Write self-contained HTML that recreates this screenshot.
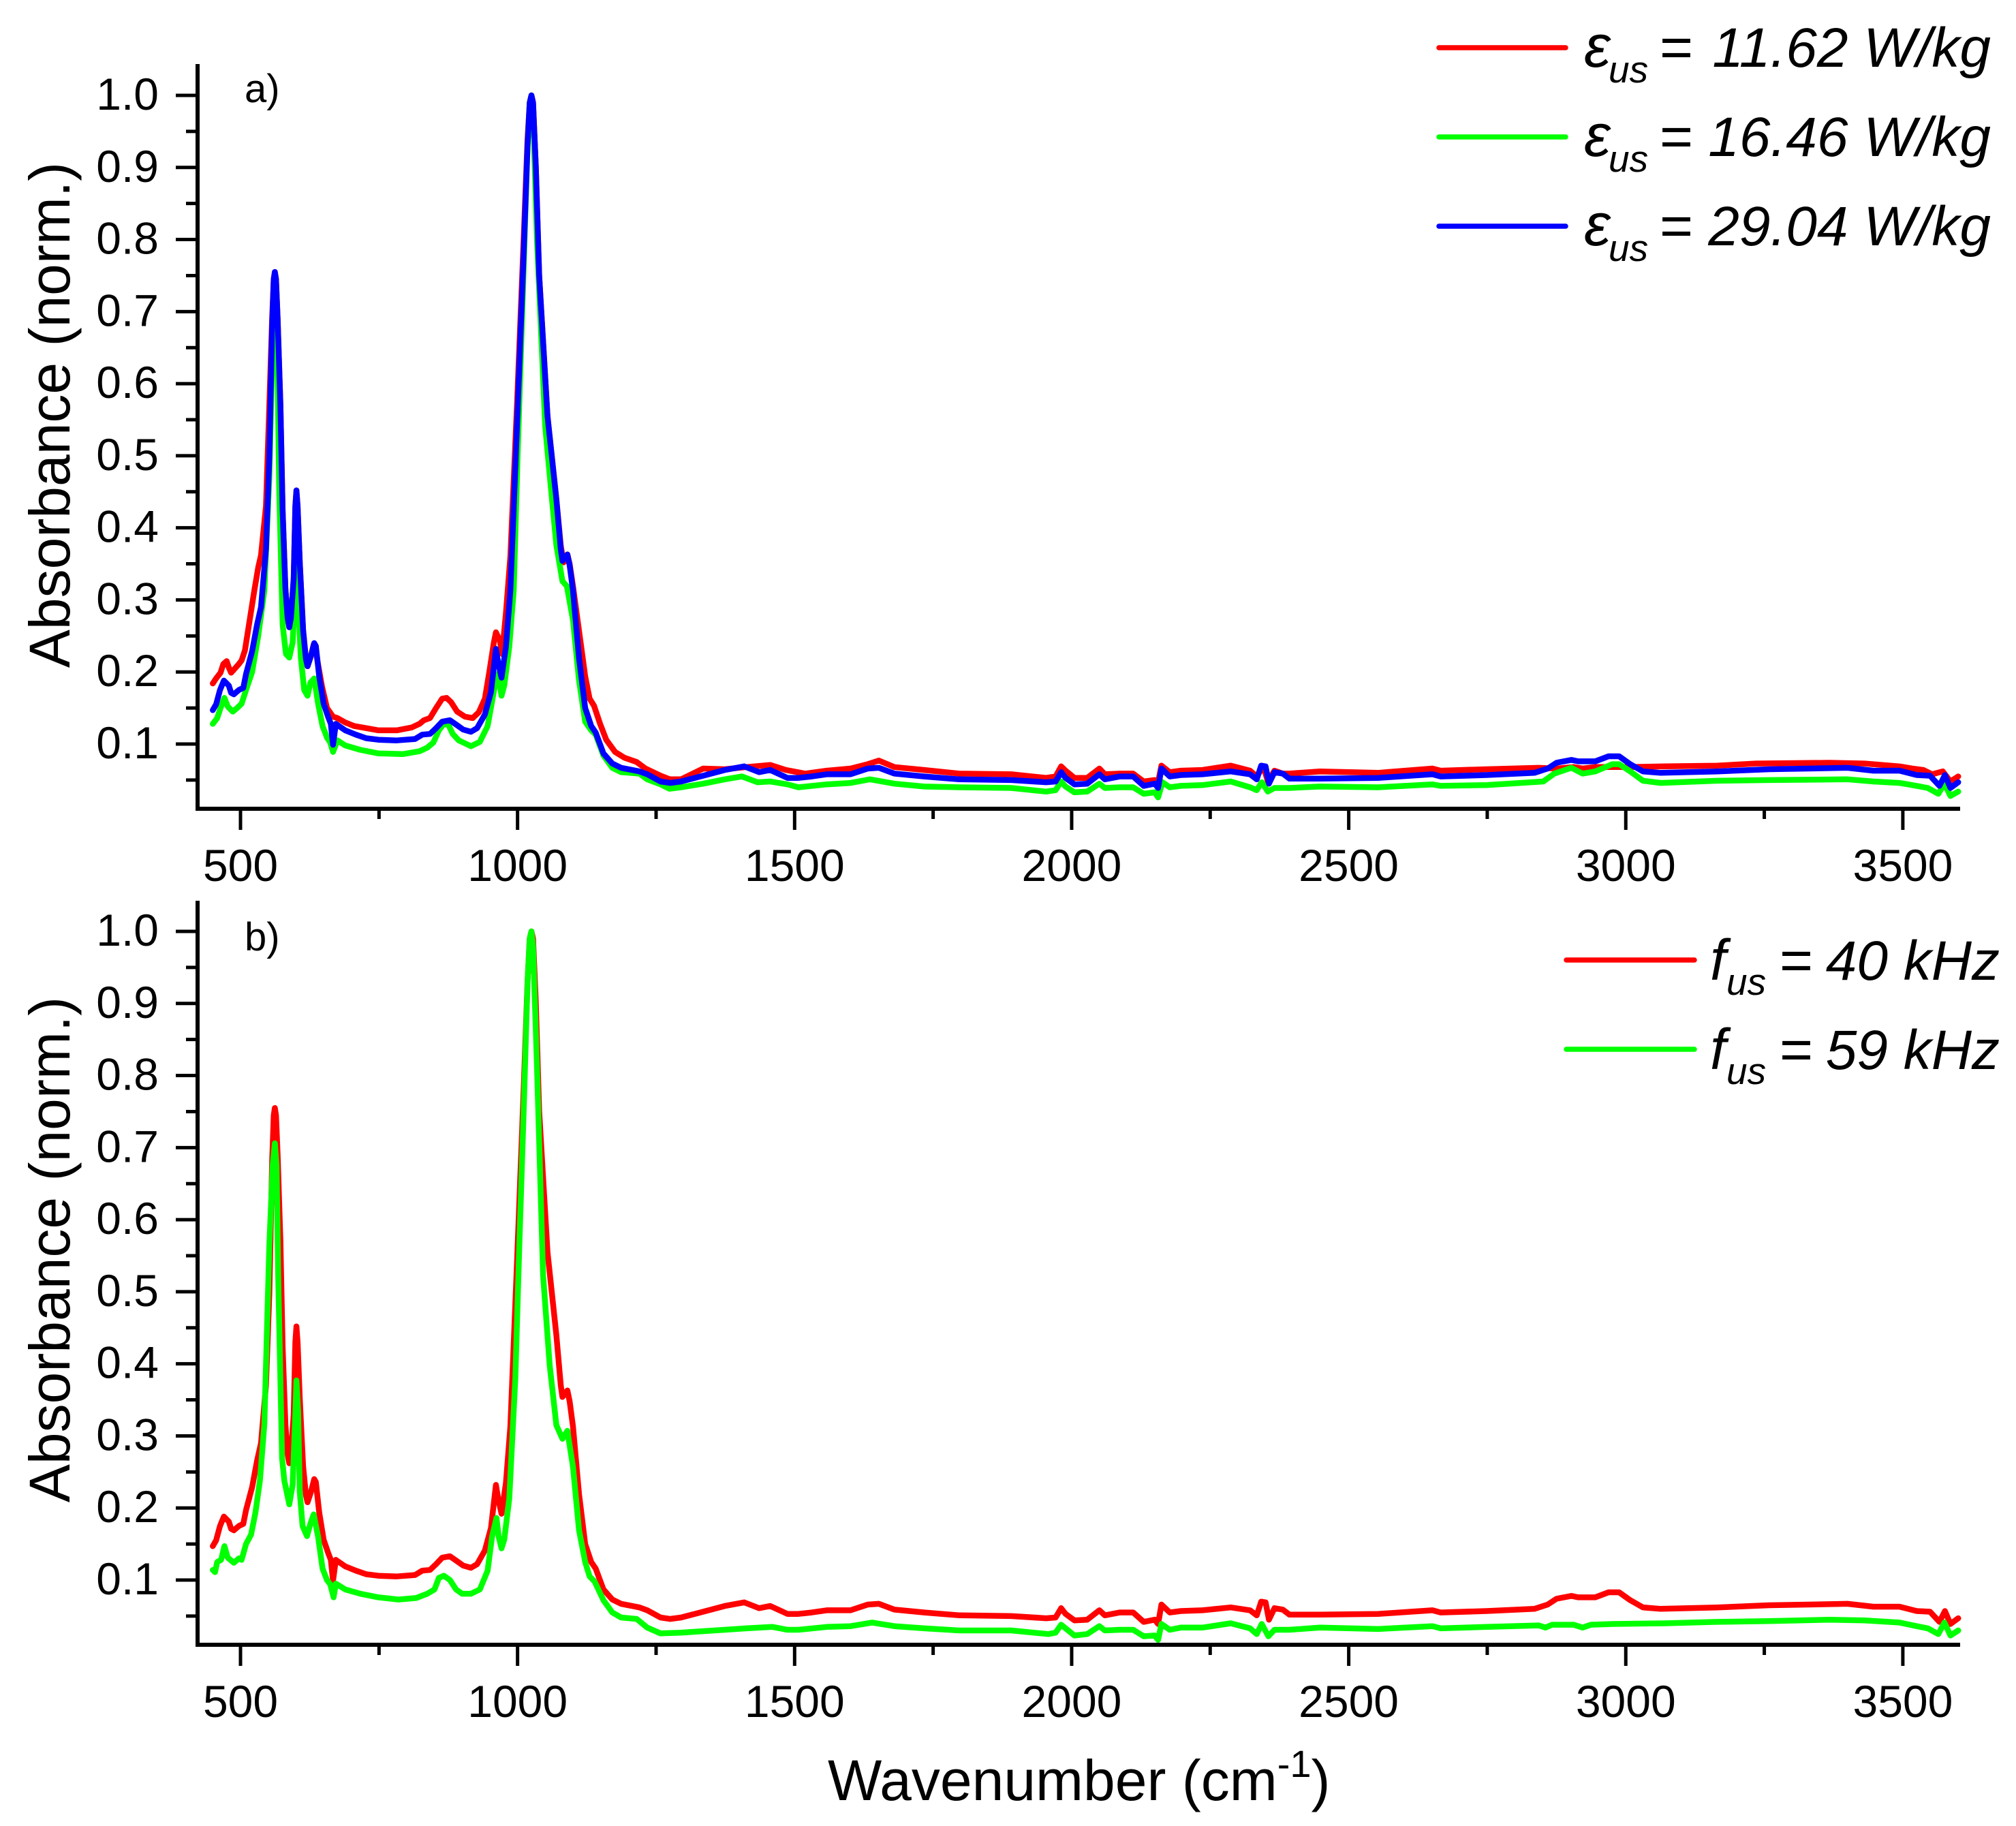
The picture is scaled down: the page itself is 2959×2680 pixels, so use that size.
<!DOCTYPE html>
<html lang="en">
<head>
<meta charset="utf-8">
<title>Absorbance spectra</title>
<style>
html,body{margin:0;padding:0;background:#fff;}
svg{display:block;}
text{font-family:"Liberation Sans",sans-serif;fill:#000;}
.it{font-style:italic;}
</style>
</head>
<body>
<svg id="chart" xmlns="http://www.w3.org/2000/svg" width="2959" height="2680" viewBox="0 0 2959 2680">
  <rect x="0" y="0" width="2959" height="2680" fill="#fff"/>
  <g id="panel-a"></g>
  <g id="panel-b"></g>

  <text x="359" y="150" font-size="58">a)</text>
  <text x="359" y="1395" font-size="58">b)</text>

  <text transform="translate(102,609) rotate(-90)" text-anchor="middle" font-size="84">Absorbance (norm.)</text>
  <text transform="translate(102,1834) rotate(-90)" text-anchor="middle" font-size="84">Absorbance (norm.)</text>
  <text x="1215" y="2642" font-size="84">Wavenumber (cm<tspan font-size="56" dy="-34">-1</tspan><tspan dy="34">)</tspan></text>

  <g>
    <g>
      <line x1="2112" x2="2298" y1="70" y2="70" stroke="#ff0000" stroke-width="7.5" stroke-linecap="round"/>
      <text class="it" x="2325" y="98" font-size="88">ε</text>
      <text class="it" x="2361" y="121" font-size="55">us</text>
      <text x="2436" y="98" font-size="84">=</text>
      <text class="it" x="2922" y="98" font-size="82" text-anchor="end">11.62 W/kg</text>
    </g>
    <g>
      <line x1="2112" x2="2298" y1="201" y2="201" stroke="#00ff00" stroke-width="7.5" stroke-linecap="round"/>
      <text class="it" x="2325" y="229" font-size="88">ε</text>
      <text class="it" x="2361" y="252" font-size="55">us</text>
      <text x="2436" y="229" font-size="84">=</text>
      <text class="it" x="2922" y="229" font-size="82" text-anchor="end">16.46 W/kg</text>
    </g>
    <g>
      <line x1="2112" x2="2298" y1="332" y2="332" stroke="#0000ff" stroke-width="7.5" stroke-linecap="round"/>
      <text class="it" x="2325" y="360" font-size="88">ε</text>
      <text class="it" x="2361" y="383" font-size="55">us</text>
      <text x="2436" y="360" font-size="84">=</text>
      <text class="it" x="2922" y="360" font-size="82" text-anchor="end">29.04 W/kg</text>
    </g>
  </g>

  <g>
    <g>
      <line x1="2299" x2="2487" y1="1409" y2="1409" stroke="#ff0000" stroke-width="7.5" stroke-linecap="round"/>
      <text class="it" x="2510" y="1438" font-size="84">f</text>
      <text class="it" x="2534" y="1460" font-size="55">us</text>
      <text x="2612" y="1438" font-size="84">=</text>
      <text class="it" x="2935" y="1438" font-size="82" text-anchor="end">40 kHz</text>
    </g>
    <g>
      <line x1="2299" x2="2487" y1="1540" y2="1540" stroke="#00ff00" stroke-width="7.5" stroke-linecap="round"/>
      <text class="it" x="2510" y="1569" font-size="84">f</text>
      <text class="it" x="2534" y="1591" font-size="55">us</text>
      <text x="2612" y="1569" font-size="84">=</text>
      <text class="it" x="2935" y="1569" font-size="82" text-anchor="end">59 kHz</text>
    </g>
  </g>
</svg>

<script>
/* Axis ticks */
const xTickValues = [500,750,1000,1250,1500,1750,2000,2250,2500,2750,3000,3250,3500];
const xTickLabels = ["500","","1000","","1500","","2000","","2500","","3000","","3500"];
const yTickValues = [0.05,0.1,0.15,0.2,0.25,0.3,0.35,0.4,0.45,0.5,0.55,0.6,0.65,0.7,0.75,0.8,0.85,0.9,0.95,1.0];
const yTickLabels = ["","0.1","","0.2","","0.3","","0.4","","0.5","","0.6","","0.7","","0.8","","0.9","","1.0"];

/* Panel a, [wavenumber, absorbance] */
const spectrum1162 = [[450,.184],[456,.191],[464,.199],[469,.211],[475,.215],[479,.206],[483,.199],[488,.203],[497,.211],[502,.216],[508,.23],[516,.269],[525,.313],[532,.345],[537,.362],[546,.43],[552,.57],[557,.69],[560,.745],[562,.755],[564,.745],[567,.69],[572,.57],[576,.425],[581,.316],[585,.275],[588,.262],[591,.275],[596,.33],[599,.43],[601,.452],[603,.43],[607,.352],[613,.258],[618,.218],[621,.208],[627,.222],[632,.238],[635,.236],[639,.215],[647,.18],[656,.15],[667,.138],[675,.136],[689,.13],[705,.125],[727,.122],[749,.119],[782,.119],[809,.123],[823,.128],[831,.133],[842,.136],[853,.15],[864,.163],[872,.164],[880,.158],[891,.145],[905,.138],[919,.136],[930,.144],[941,.163],[949,.2],[957,.24],[961,.255],[964,.25],[968,.244],[972,.225],[979,.282],[987,.36],[999,.57],[1011,.80],[1018,.94],[1022,.99],[1025,1.0],[1028,.99],[1033,.90],[1039,.75],[1054,.555],[1070,.44],[1078,.375],[1083,.352],[1087,.36],[1090,.363],[1094,.35],[1100,.319],[1111,.257],[1122,.194],[1130,.163],[1138,.153],[1149,.128],[1160,.106],[1176,.089],[1193,.081],[1215,.075],[1231,.066],[1258,.056],[1275,.051],[1295,.051],[1335,.066],[1374,.065],[1413,.068],[1456,.071],[1484,.064],[1519,.059],[1558,.063],[1601,.066],[1632,.072],[1652,.077],[1680,.068],[1734,.064],[1797,.059],[1891,.058],[1954,.053],[1971,.055],[1981,.069],[1989,.063],[2005,.053],[2028,.053],[2050,.066],[2060,.058],[2087,.059],[2111,.059],[2130,.048],[2150,.05],[2156,.047],[2162,.07],[2177,.061],[2197,.063],[2236,.064],[2287,.07],[2322,.063],[2334,.055],[2346,.069],[2354,.048],[2366,.063],[2381,.059],[2393,.059],[2448,.062],[2553,.06],[2651,.066],[2666,.063],[2749,.065],[2843,.067],[2875,.066],[2906,.068],[2922,.066],[2945,.068],[3008,.068],[3071,.069],[3165,.07],[3235,.073],[3368,.074],[3431,.073],[3494,.069],[3517,.066],[3537,.064],[3553,.058],[3572,.062],[3586,.048],[3600,.055]];

const spectrum1646 = [[450,.128],[458,.136],[464,.15],[471,.164],[477,.152],[486,.145],[494,.15],[502,.156],[510,.175],[521,.2],[532,.25],[543,.313],[552,.47],[558,.66],[562,.70],[566,.66],[570,.45],[576,.266],[582,.225],[588,.22],[594,.241],[599,.313],[601,.40],[605,.282],[609,.219],[615,.175],[621,.167],[626,.185],[633,.191],[640,.156],[648,.125],[656,.109],[662,.102],[667,.089],[675,.105],[689,.098],[716,.092],[749,.087],[793,.086],[823,.09],[837,.095],[848,.102],[858,.119],[867,.128],[875,.127],[883,.114],[894,.105],[916,.097],[932,.103],[946,.125],[957,.172],[963,.197],[967,.188],[971,.167],[976,.181],[985,.235],[993,.313],[1000,.5],[1011,.76],[1018,.93],[1022,.99],[1025,1.0],[1028,.98],[1035,.80],[1050,.54],[1062,.44],[1070,.376],[1081,.326],[1089,.319],[1100,.272],[1111,.188],[1122,.131],[1133,.119],[1141,.113],[1155,.084],[1171,.067],[1187,.061],[1220,.059],[1234,.051],[1258,.044],[1274,.038],[1295,.04],[1335,.045],[1374,.051],[1405,.055],[1433,.047],[1456,.048],[1487,.044],[1507,.04],[1558,.044],[1601,.046],[1636,.051],[1680,.045],[1734,.041],[1797,.04],[1891,.039],[1954,.034],[1971,.036],[1981,.048],[1989,.041],[2005,.033],[2028,.034],[2050,.045],[2060,.039],[2087,.04],[2111,.04],[2130,.031],[2150,.033],[2156,.026],[2164,.047],[2177,.04],[2197,.042],[2236,.043],[2287,.048],[2322,.04],[2334,.036],[2343,.047],[2354,.034],[2366,.039],[2393,.039],[2448,.041],[2553,.04],[2651,.044],[2666,.042],[2749,.043],[2851,.048],[2871,.059],[2902,.067],[2922,.059],[2945,.062],[2976,.072],[2988,.072],[3008,.062],[3031,.049],[3063,.046],[3165,.049],[3259,.05],[3400,.051],[3447,.048],[3494,.046],[3525,.042],[3545,.039],[3564,.031],[3575,.045],[3586,.028],[3600,.034]];

const spectrum2904 = [[450,.147],[456,.155],[463,.175],[470,.188],[479,.181],[483,.171],[488,.169],[497,.175],[505,.178],[510,.197],[521,.229],[530,.266],[537,.29],[546,.37],[552,.497],[557,.68],[560,.745],[562,.755],[564,.745],[567,.69],[572,.57],[576,.425],[581,.316],[585,.275],[588,.262],[591,.275],[596,.33],[599,.43],[601,.452],[603,.43],[607,.352],[613,.258],[618,.218],[621,.208],[627,.222],[633,.24],[636,.236],[642,.194],[650,.156],[658,.138],[663,.128],[667,.099],[672,.128],[689,.119],[708,.113],[727,.108],[749,.106],[782,.105],[815,.107],[828,.113],[842,.114],[853,.122],[864,.131],[878,.133],[889,.127],[902,.12],[916,.117],[927,.122],[941,.141],[952,.172],[961,.232],[965,.213],[971,.192],[979,.235],[987,.313],[999,.54],[1011,.78],[1018,.93],[1022,.99],[1025,1.0],[1028,.99],[1033,.90],[1039,.75],[1054,.555],[1070,.44],[1078,.37],[1081,.354],[1087,.36],[1090,.363],[1094,.348],[1100,.313],[1111,.219],[1122,.15],[1133,.125],[1141,.116],[1155,.087],[1171,.073],[1187,.067],[1220,.062],[1234,.058],[1258,.048],[1275,.046],[1295,.048],[1335,.056],[1374,.064],[1409,.069],[1436,.061],[1456,.064],[1487,.053],[1507,.053],[1531,.055],[1558,.058],[1601,.058],[1632,.066],[1652,.067],[1680,.059],[1734,.055],[1797,.051],[1891,.05],[1954,.047],[1971,.048],[1981,.061],[1989,.053],[2005,.044],[2028,.045],[2050,.058],[2060,.051],[2087,.055],[2111,.055],[2130,.042],[2150,.045],[2156,.039],[2162,.066],[2177,.055],[2197,.057],[2236,.058],[2287,.062],[2322,.058],[2334,.051],[2342,.07],[2350,.069],[2356,.045],[2366,.061],[2381,.059],[2393,.052],[2448,.052],[2553,.053],[2651,.058],[2666,.055],[2749,.057],[2835,.06],[2859,.066],[2875,.074],[2902,.078],[2914,.076],[2945,.076],[2969,.083],[2988,.083],[3008,.072],[3031,.062],[3063,.06],[3165,.062],[3259,.065],[3400,.067],[3447,.063],[3494,.063],[3525,.057],[3549,.056],[3566,.042],[3576,.057],[3586,.039],[3600,.047]];

/* Panel b, the 40 kHz sample is the 29.04 W/kg measurement */
const spectrum40k = spectrum2904;
const spectrum59k = [[450,.114],[454,.111],[458,.125],[465,.128],[471,.147],[477,.131],[488,.124],[497,.13],[502,.128],[510,.15],[519,.163],[527,.194],[535,.238],[543,.316],[552,.564],[558,.675],[562,.706],[565,.675],[568,.523],[575,.269],[579,.238],[588,.205],[594,.232],[599,.33],[601,.377],[604,.332],[607,.222],[612,.175],[620,.161],[626,.178],[632,.191],[640,.16],[648,.116],[656,.1],[662,.094],[668,.076],[672,.095],[689,.087],[716,.081],[749,.076],[785,.073],[817,.075],[837,.081],[850,.087],[858,.103],[867,.106],[878,.1],[889,.087],[900,.081],[916,.081],[932,.087],[946,.113],[954,.16],[962,.186],[966,.16],[971,.144],[976,.156],[985,.213],[996,.38],[1003,.56],[1011,.75],[1018,.93],[1022,.99],[1025,1.0],[1028,.98],[1035,.814],[1046,.523],[1058,.398],[1070,.315],[1081,.296],[1090,.307],[1100,.257],[1111,.169],[1122,.125],[1130,.105],[1139,.098],[1155,.072],[1171,.055],[1187,.048],[1215,.046],[1234,.034],[1258,.026],[1295,.027],[1374,.031],[1413,.033],[1460,.035],[1487,.031],[1507,.031],[1558,.035],[1601,.036],[1640,.041],[1680,.036],[1734,.033],[1797,.03],[1891,.03],[1958,.025],[1971,.027],[1981,.038],[2005,.023],[2028,.025],[2050,.036],[2060,.03],[2087,.031],[2111,.031],[2130,.022],[2150,.023],[2156,.017],[2162,.039],[2177,.031],[2197,.034],[2236,.034],[2287,.04],[2322,.033],[2334,.025],[2343,.039],[2355,.022],[2366,.031],[2393,.031],[2448,.034],[2553,.032],[2651,.036],[2666,.033],[2749,.035],[2843,.037],[2855,.034],[2867,.038],[2906,.038],[2922,.034],[2937,.038],[2976,.039],[3071,.04],[3165,.042],[3259,.043],[3368,.045],[3431,.044],[3494,.041],[3525,.036],[3545,.033],[3564,.025],[3575,.041],[3586,.023],[3600,.03]];

const SVGNS = "http://www.w3.org/2000/svg";
const xPos = function(w){ return 353 + (w - 500) * 0.8133; };
function makeYPos(yAtOne, yAtTenth){
  return function(v){ return yAtTenth - (v - 0.1) * (yAtTenth - yAtOne) / 0.9; };
}
function node(parent, tag){
  const el = document.createElementNS(SVGNS, tag);
  parent.appendChild(el);
  return el;
}
function seg(el, x1, y1, x2, y2, w){
  el.setAttribute("x1", x1);
  el.setAttribute("y1", y1);
  el.setAttribute("x2", x2);
  el.setAttribute("y2", y2);
  el.setAttribute("stroke", "#000");
  el.setAttribute("stroke-width", w);
}
function drawPanel(root, top, bottom, yAtOne, yAtTenth, series){
  const yPos = makeYPos(yAtOne, yAtTenth);
  series.forEach(function(s){
    const line = node(root, "polyline");
    
    
    line.setAttribute("fill", "none");
    line.setAttribute("stroke", s.color);
    line.setAttribute("stroke-width", "8.5");
    line.setAttribute("stroke-linejoin", "round");
    line.setAttribute("stroke-linecap", "round");
    line.setAttribute("points", s.values.map(function(p){
      return xPos(p[0]).toFixed(1) + "," + yPos(p[1]).toFixed(1);
    }).join(" "));
  });
  const yAxis = node(root, "line");
  
  
  seg(yAxis, 290, top, 290, bottom + 3, 6);
  const xAxis = node(root, "line");
  
  
  seg(xAxis, 287, bottom, 2877, bottom, 6);
  yTickValues.forEach(function(v, i){
    const y = yPos(v);
    const major = yTickLabels[i] !== "";
    const tick = node(root, "line");
    
    
    seg(tick, 290, y, major ? 258 : 273, y, 5);
    if (major) {
      const label = node(root, "text");
      
      
      label.setAttribute("x", 233);
      label.setAttribute("y", y + 21);
      label.setAttribute("text-anchor", "end");
      label.setAttribute("font-size", "66");
      label.textContent = yTickLabels[i];
    }
  });
  xTickValues.forEach(function(v, i){
    const x = xPos(v);
    const major = xTickLabels[i] !== "";
    const tick = node(root, "line");
    
    
    seg(tick, x, bottom, x, bottom + (major ? 31 : 15), 5);
    if (major) {
      const label = node(root, "text");
      
      
      label.setAttribute("x", x);
      label.setAttribute("y", bottom + 106);
      label.setAttribute("text-anchor", "middle");
      label.setAttribute("font-size", "66");
      label.textContent = xTickLabels[i];
    }
  });
}
drawPanel(document.getElementById("panel-a"), 94, 1187, 140, 1092, [
  {name:"series-11-62-w-kg", color:"#ff0000", values:spectrum1162},
  {name:"series-16-46-w-kg", color:"#00ff00", values:spectrum1646},
  {name:"series-29-04-w-kg", color:"#0000ff", values:spectrum2904}
]);
drawPanel(document.getElementById("panel-b"), 1322, 2414, 1367, 2319, [
  {name:"series-40-khz", color:"#ff0000", values:spectrum40k},
  {name:"series-59-khz", color:"#00ff00", values:spectrum59k}
]);
</script>
</body>
</html>
